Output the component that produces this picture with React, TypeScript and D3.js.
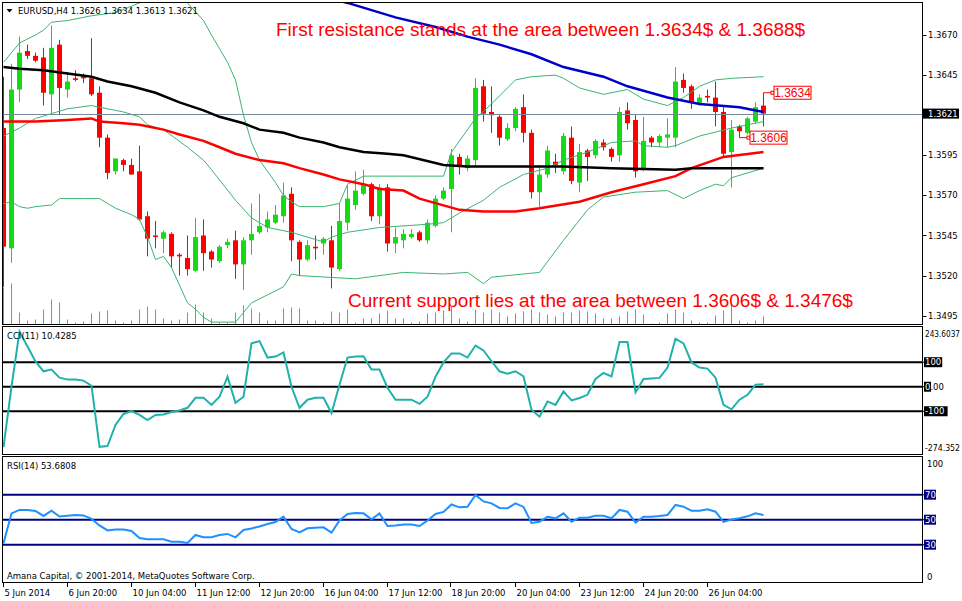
import React from "react";
import * as d3 from "d3";

// EURUSD H4, 96 bars (oldest first)
const opens = [
  1.3612, 1.3537, 1.3636, 1.366, 1.3657, 1.3656, 1.3633, 1.3664, 1.3636, 1.3643,
  1.3644, 1.3643, 1.3634, 1.3606, 1.3585, 1.3592, 1.3589, 1.3585, 1.3557, 1.3545,
  1.3543, 1.3546, 1.3533, 1.3531, 1.3523, 1.3545, 1.3535, 1.3529, 1.3539, 1.3542,
  1.3527, 1.3542, 1.3547, 1.355, 1.3553, 1.3557, 1.3571, 1.3541, 1.353, 1.3538,
  1.354, 1.3542, 1.3524, 1.3553, 1.3564, 1.3571, 1.3577, 1.3557, 1.3575, 1.354,
  1.3542, 1.3544, 1.3547, 1.3542, 1.3551, 1.3568, 1.3574, 1.3594, 1.3587, 1.3592,
  1.3638, 1.3622, 1.3619, 1.3605, 1.3612, 1.3625, 1.3609, 1.3572, 1.3583, 1.3591,
  1.3585, 1.3606, 1.3578, 1.3598, 1.3595, 1.3603, 1.3599, 1.3595, 1.3623, 1.3617,
  1.3586, 1.3606, 1.3603, 1.3606, 1.3606, 1.3642, 1.3638, 1.3627, 1.3632, 1.3631,
  1.3622, 1.3597, 1.3613, 1.3609, 1.3616, 1.3626,
];
const highs = [
  1.3644, 1.3652, 1.3669, 1.3664, 1.3659, 1.3662, 1.3676, 1.3667, 1.3647, 1.3648,
  1.3646, 1.3668, 1.3638, 1.3608, 1.3593, 1.3593, 1.3593, 1.3601, 1.356, 1.3554,
  1.3548, 1.3547, 1.3534, 1.3545, 1.3556, 1.3555, 1.3536, 1.3539, 1.3543, 1.3548,
  1.3544, 1.3565, 1.3571, 1.356, 1.3564, 1.3578, 1.3575, 1.3542, 1.3542, 1.3545,
  1.3544, 1.3551, 1.3565, 1.3576, 1.3585, 1.3586, 1.3578, 1.3577, 1.3577, 1.355,
  1.3549, 1.3549, 1.3548, 1.3555, 1.357, 1.3575, 1.3599, 1.3596, 1.3595, 1.3643,
  1.3642, 1.3638, 1.362, 1.3615, 1.3625, 1.3633, 1.3611, 1.3589, 1.3601, 1.3596,
  1.3609, 1.3613, 1.3602, 1.3599, 1.3605, 1.3605, 1.36, 1.3625, 1.3628, 1.362,
  1.3619, 1.3607, 1.3608, 1.3618, 1.365, 1.3646, 1.3639, 1.3633, 1.3636, 1.3641,
  1.3625, 1.3617, 1.3614, 1.3619, 1.3628, 1.3634,
];
const lows = [
  1.3513, 1.3528, 1.3628, 1.3655, 1.3653, 1.3626, 1.3621, 1.362, 1.3631, 1.3641,
  1.364, 1.3632, 1.36, 1.358, 1.3583, 1.3585, 1.3583, 1.3554, 1.3532, 1.3537,
  1.3534, 1.3525, 1.352, 1.352, 1.3522, 1.3523, 1.3525, 1.3528, 1.3537, 1.3518,
  1.3511, 1.3533, 1.3546, 1.3547, 1.3552, 1.3553, 1.3529, 1.352, 1.3529, 1.353,
  1.3533, 1.3512, 1.3523, 1.3548, 1.3561, 1.357, 1.3554, 1.3552, 1.3535, 1.3534,
  1.3537, 1.3543, 1.3541, 1.354, 1.355, 1.3567, 1.3547, 1.3583, 1.3585, 1.3588,
  1.3616, 1.3609, 1.3601, 1.3604, 1.361, 1.3603, 1.3568, 1.3562, 1.3581, 1.3584,
  1.3583, 1.3577, 1.3572, 1.3579, 1.3593, 1.3598, 1.3591, 1.3591, 1.3611, 1.3581,
  1.3585, 1.36, 1.36, 1.36, 1.36, 1.3634, 1.3624, 1.3626, 1.3628, 1.3613,
  1.3594, 1.3575, 1.3609, 1.3608, 1.3615, 1.3613,
];
const closes = [
  1.3538, 1.3636, 1.3659, 1.3657, 1.3654, 1.3634, 1.3662, 1.3637, 1.3641, 1.3642,
  1.3643, 1.3633, 1.3606, 1.3584, 1.3593, 1.3589, 1.3583, 1.3555, 1.3543, 1.3544,
  1.3547, 1.3532, 1.3532, 1.3524, 1.3544, 1.3534, 1.353, 1.3538, 1.3541, 1.3527,
  1.3542, 1.3546, 1.3551, 1.3555, 1.3558, 1.357, 1.3542, 1.353, 1.3539, 1.3537,
  1.3543, 1.3525, 1.3554, 1.3568, 1.3573, 1.3577, 1.3557, 1.3575, 1.354, 1.3544,
  1.3546, 1.3546, 1.3542, 1.3553, 1.3568, 1.3573, 1.3595, 1.3588, 1.3593, 1.3637,
  1.3621, 1.362, 1.3606, 1.3612, 1.3624, 1.3609, 1.3572, 1.3583, 1.3598, 1.3589,
  1.3607, 1.3579, 1.3597, 1.3594, 1.3604, 1.36, 1.3594, 1.3622, 1.3615, 1.3585,
  1.3604, 1.3603, 1.3607, 1.3608, 1.3641, 1.3637, 1.3628, 1.3631, 1.3631, 1.3622,
  1.3596, 1.3611, 1.361, 1.3618, 1.3625, 1.3621,
];
const volumes = [
  3700, 4100, 1200, 400, 500, 1500, 2500, 2200, 500, 200,
  300, 1100, 1300, 1400, 400, 200, 400, 1500, 1800, 1500,
  600, 400, 500, 1200, 2000, 1200, 600, 200, 200, 1200,
  1900, 1600, 1200, 400, 400, 1600, 1700, 1600, 400, 400,
  200, 1300, 1200, 1500, 200, 600, 600, 1100, 1400, 600,
  600, 200, 300, 1100, 1200, 1400, 1800, 600, 300, 1500,
  1200, 1500, 1200, 800, 1100, 1300, 1500, 1200, 1000, 800,
  1200, 1200, 1400, 1300, 1100, 600, 600, 800, 1300, 1500,
  1000, 100, 200, 1100, 1500, 1200, 400, 200, 200, 900,
  1400, 1900, 400, 200, 400, 800,
];

// indicator lines, [bar, value]
const blackMA: [number, number][] = [
  [0, 1.365], [2, 1.3649], [5, 1.3648], [8, 1.3646], [11, 1.3644], [13, 1.3641], [16, 1.3638],
  [19, 1.3634], [22, 1.3628], [25, 1.3623], [27, 1.3619], [30, 1.3615], [32, 1.3611], [35, 1.3609],
  [37, 1.3606], [40, 1.3603], [42, 1.36], [45, 1.3597], [48, 1.3596], [50, 1.3595], [55, 1.3589],
  [58, 1.3588], [70, 1.3588], [76, 1.3587], [84, 1.3586], [86, 1.3587], [95, 1.3587],
];
const redMA: [number, number][] = [
  [0, 1.3616], [4, 1.3616], [8, 1.3617], [11, 1.3618], [12, 1.3616], [15, 1.3615], [17, 1.3614],
  [20, 1.3611], [22, 1.3608], [25, 1.3604], [27, 1.36], [29, 1.3596], [32, 1.3592], [35, 1.359],
  [37, 1.3587], [40, 1.3583], [42, 1.358], [45, 1.3577], [47, 1.3574], [50, 1.3573], [52, 1.3568],
  [57, 1.3561], [60, 1.356], [64, 1.356], [67, 1.3562], [72, 1.3566], [76, 1.3572], [80, 1.3577],
  [84, 1.3582], [86, 1.3587], [90, 1.3594], [95, 1.3597],
];
const blueMA: [number, number][] = [
  [40, 1.3694], [43, 1.369], [49, 1.3681], [54, 1.3675], [58, 1.3669], [62, 1.3664], [66, 1.3658],
  [70, 1.365], [75, 1.3644], [78, 1.3638], [83, 1.3631], [87, 1.3627], [92, 1.3625], [95, 1.3622],
];
const bandUpper: [number, number][] = [
  [0, 1.3653], [2, 1.3665], [4, 1.367], [5, 1.3673], [6, 1.3678], [8, 1.3679], [11, 1.3682],
  [14, 1.3684], [17, 1.369], [20, 1.3694], [22, 1.3693], [23, 1.369], [25, 1.3679], [26, 1.367],
  [28, 1.3653], [29, 1.3642], [30, 1.362], [31, 1.3603], [32, 1.3592], [34, 1.3578], [35, 1.357],
  [36, 1.3566], [37, 1.3563], [40, 1.3563], [42, 1.3565], [43, 1.3577], [45, 1.3582], [55, 1.3582],
  [56, 1.3597], [59, 1.3618], [61, 1.3627], [64, 1.3642], [66, 1.3644], [69, 1.3645], [70, 1.3643],
  [72, 1.3637], [75, 1.3633], [78, 1.3636], [80, 1.363], [83, 1.3626], [85, 1.3631], [87, 1.3638],
  [89, 1.3642], [91, 1.3643], [95, 1.3644],
];
const bandMiddle: [number, number][] = [
  [0, 1.3607], [2, 1.3612], [4, 1.3618], [6, 1.3621], [8, 1.3624], [11, 1.3626], [12, 1.3625],
  [15, 1.3622], [17, 1.3619], [18, 1.3614], [20, 1.3611], [23, 1.36], [25, 1.3592], [26, 1.3586],
  [29, 1.3567], [31, 1.3556], [33, 1.355], [36, 1.3547], [40, 1.3541], [41, 1.3544], [43, 1.3547],
  [47, 1.355], [53, 1.3552], [55, 1.3553], [57, 1.3559], [60, 1.3567], [62, 1.3575], [65, 1.3583],
  [68, 1.3587], [70, 1.3592], [73, 1.3597], [76, 1.3603], [79, 1.3604], [80, 1.3601], [83, 1.36],
  [84, 1.3601], [87, 1.3607], [91, 1.3612], [95, 1.3616],
];
const bandLower: [number, number][] = [
  [0, 1.3565], [1, 1.3566], [2, 1.3563], [3, 1.3562], [4, 1.3563], [6, 1.3564], [7, 1.3568],
  [10, 1.3568], [12, 1.3568], [13, 1.3565], [14, 1.3562], [16, 1.3558], [17, 1.3555], [18, 1.3544],
  [19, 1.353], [20, 1.3532], [21, 1.3525], [23, 1.3503], [24, 1.3499], [25, 1.3494], [26, 1.3491],
  [29, 1.3491], [30, 1.3497], [31, 1.3503], [33, 1.3508], [35, 1.3513], [36, 1.3521], [37, 1.352],
  [44, 1.3518], [50, 1.3522], [55, 1.3521], [58, 1.3522], [60, 1.3515], [61, 1.3519], [67, 1.3522],
  [70, 1.3542], [73, 1.3561], [75, 1.3569], [79, 1.3572], [83, 1.3573], [85, 1.3568], [87, 1.3573],
  [89, 1.3577], [90, 1.3576], [91, 1.3581], [95, 1.3587],
];

const cci = [
  -246, 0, 225, 164, 103, 63, 70, 37, 29, 29,
  25, 4, -245, -242, -156, -111, -99, -115, -136, -115,
  -113, -103, -97, -86, -45, -45, -74, -41, 41, -66,
  -41, 177, 186, 119, 123, 140, 0, -86, -53, -45,
  -45, -107, 8, 119, 123, 124, 70, 70, -4, -53,
  -53, -53, -70, -41, 41, 99, 136, 136, 119, 168,
  148, 104, 63, 53, 63, 42, -94, -122, -60, -74,
  -19, -56, -46, -33, 32, 56, 42, 182, 182, -23,
  32, 34, 36, 78, 196, 177, 99, 78, 74, 37,
  -74, -92, -53, -33, 8, 10.4285,
];
const rsi = [
  31.1, 55, 57.8, 57.8, 57, 53, 57.2, 52.6, 53.2, 53.8,
  53.4, 50.6, 45.4, 41.4, 42.2, 42.2, 41, 35.4, 34.3, 34.3,
  34.3, 32.4, 32.4, 31.4, 37.8, 35.9, 35.9, 37.8, 38.6, 35.9,
  41.8, 43, 44.6, 46.6, 48.2, 52.4, 42.6, 39.8, 43.1, 43.6,
  43.9, 39.6, 49.4, 54.6, 55.4, 55.1, 50.3, 55, 45, 45.4,
  46.2, 46.2, 45, 49.4, 54.6, 56.2, 62.2, 59.9, 60.4, 69.8,
  64.6, 63.1, 59.4, 59.1, 63.1, 60.2, 47.4, 48.4, 52.4, 51.1,
  55.1, 48.4, 51.6, 51.6, 53.2, 53.2, 51.1, 57.8, 56.4, 47.6,
  52.4, 52.4, 53, 53.8, 61.8, 60.4, 57.2, 57.2, 58.3, 56.4,
  48.2, 50.2, 51.1, 52.7, 55.1, 53.6808,
];

const priceTicks = [1.367, 1.3645, 1.3595, 1.357, 1.3545, 1.352, 1.3495];
const lastPrice = 1.3621;
const cciLevels = [100, 0, -100];
const cciRange = ["243.6037", "-274.352"];
const rsiLevels = [70, 50, 30];
const timeTickBars = [0, 8, 16, 24, 32, 40, 48, 56, 64, 72, 80, 88];
const timeLabels = [
  "5 Jun 2014", "6 Jun 20:00", "10 Jun 04:00", "11 Jun 12:00", "12 Jun 20:00", "16 Jun 04:00",
  "17 Jun 12:00", "18 Jun 20:00", "20 Jun 04:00", "23 Jun 12:00", "24 Jun 20:00", "26 Jun 04:00",
];
const priceMarks = [
  { bar: 95, price: 1.3634, from: 1.3634 },
  { bar: 92, price: 1.3606, from: 1.3613 },
];

const font = "DejaVu Sans, sans-serif";
const UP = "#14dc14";
const DOWN = "#ff0000";

const App = () => {
  const right = 922.5;
  const main = { top: 2.5, bottom: 324.5 };
  const cciP = { top: 326.5, bottom: 454.5 };
  const rsiP = { top: 456.5, bottom: 582.5 };

  const x = d3.scaleLinear().domain([0, 95]).range([3.5, 763.5]);
  const y = d3.scaleLinear().domain([1.3495, 1.367]).range([315.7, 35]);
  const yVol = d3.scaleLinear().domain([0, 4100]).range([main.bottom, main.bottom - 41]);
  const yCci = d3.scaleLinear().domain([-274.352, 243.6037]).range([454, 327]);
  const yRsi = d3.scaleLinear().domain([0, 100]).range([582.2, 457.2]);

  const knotLine = d3.line<[number, number]>().x((d) => x(d[0])).y((d) => y(d[1]));
  const cciLine = d3.line<number>().x((_, i) => x(i)).y((d) => yCci(d));
  const rsiLine = d3.line<number>().x((_, i) => x(i)).y((d) => yRsi(d));

  const panels = [main, cciP, rsiP];

  return (
    <svg width={962} height={601} style={{ position: "absolute", left: 0, top: 0, background: "#fff" }}>
      <defs>
        <clipPath id="clipMain"><rect x={3} y={main.top} width={right - 3} height={main.bottom - main.top} /></clipPath>
        <clipPath id="clipCci"><rect x={3} y={cciP.top} width={right - 3} height={cciP.bottom - cciP.top} /></clipPath>
        <clipPath id="clipRsi"><rect x={3} y={rsiP.top} width={right - 3} height={rsiP.bottom - rsiP.top} /></clipPath>
      </defs>
      <rect width={962} height={601} fill="#fff" />

      {/* main panel */}
      <g clipPath="url(#clipMain)">
        {volumes.map((v, i) => (
          <line key={"v" + i} x1={x(i)} x2={x(i)} y1={main.bottom} y2={yVol(v)} stroke="#32cd32" strokeWidth={1} />
        ))}
        {opens.map((o, i) => {
          const c = closes[i];
          const col = c >= o ? UP : DOWN;
          const top = y(Math.max(o, c));
          const h = Math.max(1, Math.abs(y(o) - y(c)));
          return (
            <g key={"c" + i}>
              <line x1={x(i)} x2={x(i)} y1={y(highs[i])} y2={y(lows[i])} stroke={col} strokeWidth={1} />
              <rect x={x(i) - 2.5} y={top} width={5} height={h} fill={col} />
            </g>
          );
        })}
        <line x1={3} x2={right} y1={Math.round(y(lastPrice)) + 0.5} y2={Math.round(y(lastPrice)) + 0.5} stroke="#778899" strokeWidth={1} />
        <path d={knotLine(bandUpper) || ""} fill="none" stroke="#3cb371" strokeWidth={1} />
        <path d={knotLine(bandMiddle) || ""} fill="none" stroke="#3cb371" strokeWidth={1} />
        <path d={knotLine(bandLower) || ""} fill="none" stroke="#3cb371" strokeWidth={1} />
        <path d={knotLine(redMA) || ""} fill="none" stroke="#ff0000" strokeWidth={2.5} />
        <path d={knotLine(blackMA) || ""} fill="none" stroke="#000" strokeWidth={2.5} />
        <path d={knotLine(blueMA) || ""} fill="none" stroke="#0000cd" strokeWidth={2.5} />

        {priceMarks.map((m, k) => {
          const px = x(m.bar);
          const py = y(m.price);
          return (
            <g key={"pm" + k}>
              <line x1={px} x2={px} y1={y(m.from)} y2={py} stroke="#ff0000" strokeWidth={1} />
              <line x1={px} x2={px + 8} y1={py} y2={py} stroke="#ff0000" strokeWidth={1} />
              <rect x={px + 7.5} y={py - 1.5} width={3} height={3} fill="#fff" stroke="#ff0000" strokeWidth={1} />
              <rect x={px + 10.5} y={py - 6.5} width={37} height={13} fill="#fff" stroke="#ff0000" strokeWidth={1} />
              <text x={px + 29} y={py + 4} textAnchor="middle" fontFamily="Liberation Sans, Arial, sans-serif" fontSize={12} fill="#ff0000">
                {m.price.toFixed(4)}
              </text>
            </g>
          );
        })}

        <text x={276} y={36} fontFamily="Liberation Sans, Arial, sans-serif" fontSize={19} fill="#ff0000">
          First resistance stands at the area between 1.3634$ &amp; 1.3688$
        </text>
        <text x={348} y={307} fontFamily="Liberation Sans, Arial, sans-serif" fontSize={19} fill="#ff0000">
          Current support lies at the area between 1.3606$ &amp; 1.3476$
        </text>
      </g>
      <path d="M6.5,9 L12.5,9 L9.5,12.5 Z" fill="#000" />
      <text x={18} y={14} fontFamily={font} fontSize={8.5} fill="#000">EURUSD,H4  1.3626 1.3634 1.3613 1.3621</text>

      {/* CCI panel */}
      <g clipPath="url(#clipCci)">
        {cciLevels.map((l) => (
          <line key={"cl" + l} x1={3} x2={right} y1={yCci(l)} y2={yCci(l)} stroke="#000" strokeWidth={2} />
        ))}
        <path d={cciLine(cci) || ""} fill="none" stroke="#20b2aa" strokeWidth={2} />
      </g>
      <text x={7} y={339} fontFamily={font} fontSize={8.5} fill="#000">CCI(11) 10.4285</text>

      {/* RSI panel */}
      <g clipPath="url(#clipRsi)">
        {rsiLevels.map((l) => (
          <line key={"rl" + l} x1={3} x2={right} y1={yRsi(l)} y2={yRsi(l)} stroke="#000080" strokeWidth={2} />
        ))}
        <path d={rsiLine(rsi) || ""} fill="none" stroke="#1e90ff" strokeWidth={2} />
      </g>
      <text x={7} y={469} fontFamily={font} fontSize={8.5} fill="#000">RSI(14) 53.6808</text>
      <text x={7} y={579} fontFamily={font} fontSize={8.5} fill="#000">Amana Capital, © 2001-2014, MetaQuotes Software Corp.</text>

      {/* panel frames */}
      {panels.map((p, k) => (
        <rect key={"f" + k} x={2.5} y={p.top} width={right - 2.5} height={p.bottom - p.top} fill="none" stroke="#000" strokeWidth={1} />
      ))}

      {/* price axis */}
      {priceTicks.map((t) => (
        <g key={"pt" + t}>
          <line x1={right} x2={right + 4} y1={Math.round(y(t)) + 0.5} y2={Math.round(y(t)) + 0.5} stroke="#000" />
          <text x={928} y={y(t) + 3} fontFamily={font} fontSize={8.5} fill="#000">{t.toFixed(4)}</text>
        </g>
      ))}
      <rect x={923} y={y(lastPrice) - 5} width={36} height={10} fill="#000" />
      <text x={928} y={y(lastPrice) + 3} fontFamily={font} fontSize={8.5} fill="#fff">{lastPrice.toFixed(4)}</text>

      {/* CCI axis */}
      <text x={925} y={337} fontFamily={font} fontSize={8} textLength={35} lengthAdjust="spacingAndGlyphs" fill="#000">{cciRange[0]}</text>
      <text x={925} y={451} fontFamily={font} fontSize={8} textLength={35} lengthAdjust="spacingAndGlyphs" fill="#000">{cciRange[1]}</text>
      {cciLevels.map((l) => {
        const label = l === 0 ? "0.00" : String(l);
        const w = l === 0 ? 7 : label.length * 5.4 + 2;
        return (
          <g key={"ca" + l}>
            <line x1={right} x2={right + 4} y1={yCci(l)} y2={yCci(l)} stroke="#000" />
            <rect x={924} y={yCci(l) - 5} width={w} height={10} fill="#000" />
            {l === 0 ? (
              <text x={925} y={yCci(l) + 3} fontFamily={font} fontSize={8.5} fill="#000">
                <tspan fill="#fff">0</tspan>.00
              </text>
            ) : (
              <text x={925} y={yCci(l) + 3} fontFamily={font} fontSize={8.5} fill="#fff">{label}</text>
            )}
          </g>
        );
      })}

      {/* RSI axis */}
      <text x={927} y={467} fontFamily={font} fontSize={8.5} fill="#000">100</text>
      <text x={927} y={580} fontFamily={font} fontSize={8.5} fill="#000">0</text>
      {rsiLevels.map((l) => (
        <g key={"ra" + l}>
          <line x1={right} x2={right + 4} y1={yRsi(l)} y2={yRsi(l)} stroke="#000" />
          <rect x={924} y={yRsi(l) - 5} width={12} height={10} fill="#000080" />
          <text x={925} y={yRsi(l) + 3} fontFamily={font} fontSize={8.5} fill="#fff">{l}</text>
        </g>
      ))}

      {/* time axis */}
      {timeTickBars.map((b, k) => {
        const tx = Math.round(x(b) - 1) + 0.5;
        return (
          <g key={"tt" + b}>
            <line x1={tx} x2={tx} y1={582.5} y2={587} stroke="#000" />
            <text x={tx + 1} y={596} fontFamily={font} fontSize={8.5} fill="#000">{timeLabels[k]}</text>
          </g>
        );
      })}
    </svg>
  );
};

export default App;
